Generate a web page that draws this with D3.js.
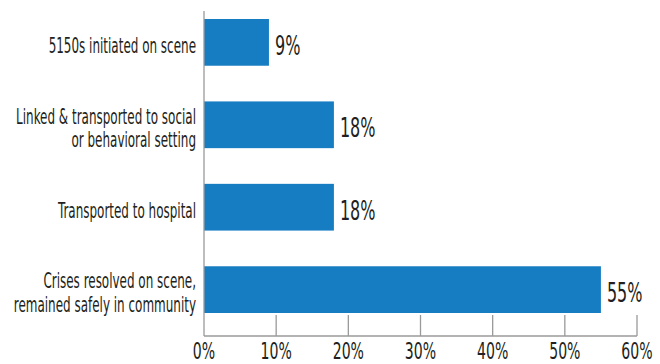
<!DOCTYPE html>
<html>
<head>
<meta charset="utf-8">
<script src="https://cdn.jsdelivr.net/npm/d3@7"></script>
<style>
  body { margin: 0; background: #fff; }
  text { font-family: "DejaVu Sans Condensed", "DejaVu Sans", sans-serif; fill: #231f20; }
</style>
</head>
<body>
<div id="chart"></div>
<script>
// chart data
const categories = [
    ["5150s initiated on scene"],
    ["Linked & transported to social", "or behavioral setting"],
    ["Transported to hospital"],
    ["Crises resolved on scene,", "remained safely in community"]
];
const values = [9, 18, 18, 55];
const tickValues = [0, 10, 20, 30, 40, 50, 60];

const width = 660, height = 364;
const margin = {top: 11, right: 23, bottom: 28, left: 204};
const innerW = width - margin.left - margin.right,
      innerH = height - margin.top - margin.bottom;
// horizontal squeeze to get the condensed face
const squeezeCat = 0.605, squeezeNum = 0.68, squeezeVal = 0.66;

const svg = d3.select("#chart")
    .append("svg")
    .attr("width", width)
    .attr("height", height)
    .append("g")
    .attr("transform", `translate(${margin.left},${margin.top})`);

const x = d3.scaleLinear()
    .domain([0, 60])
    .range([0, innerW]);

const y = d3.scaleBand()
    .domain(d3.range(categories.length))
    .range([8, 302])
    .paddingInner(0.433)
    .paddingOuter(0);

// tick stubs
svg.selectAll(".tick-stub")
    .data(tickValues.slice(1))
    .enter()
    .append("line")
        .attr("x1", d => x(d))
        .attr("x2", d => x(d))
        .attr("y1", innerH - 21)
        .attr("y2", innerH)
        .attr("stroke", "#9a9a9a")
        .attr("stroke-width", 1.3);

// bars
svg.selectAll("rect")
    .data(values)
    .enter()
    .append("rect")
        .attr("x", 0)
        .attr("y", (d, i) => y(i))
        .attr("width", d => x(d))
        .attr("height", y.bandwidth())
        .style("fill", "#167dc3");

// axes lines
svg.append("line")
    .attr("x1", 0).attr("x2", 0)
    .attr("y1", 0).attr("y2", innerH)
    .attr("stroke", "#9a9a9a").attr("stroke-width", 1.3);
svg.append("line")
    .attr("x1", 0).attr("x2", x(60))
    .attr("y1", innerH).attr("y2", innerH)
    .attr("stroke", "#9a9a9a").attr("stroke-width", 1.3);

// tick labels
svg.selectAll(".tick-label")
    .data(tickValues)
    .enter()
    .append("text")
        .attr("transform", d => `translate(${x(d)},${innerH + 23}) scale(${squeezeNum},1)`)
        .attr("text-anchor", "middle")
        .style("font-size", "23px")
        .text(d => d + "%");

// category labels
const catLabels = svg.selectAll(".cat")
    .data(categories)
    .enter()
    .append("text")
        .attr("transform", (d, i) => `translate(-8,${y(i) + y.bandwidth() / 2 + 10.5}) scale(${squeezeCat},1)`)
        .attr("text-anchor", "end")
        .style("font-size", "22px");
catLabels.selectAll("tspan")
    .data(d => d.map((t, j) => ({t, j, n: d.length})))
    .enter()
    .append("tspan")
        .attr("x", 0)
        .attr("y", d => (d.j - (d.n - 1) / 2) * 23.5)
        .text(d => d.t);

// value labels
svg.selectAll(".val")
    .data(values)
    .enter()
    .append("text")
        .attr("transform", (d, i) => `translate(${x(d) + 6},${y(i) + y.bandwidth() / 2 + 12.5}) scale(${squeezeVal},1)`)
        .style("font-size", "27px")
        .text(d => d + "%");
</script>
</body>
</html>
